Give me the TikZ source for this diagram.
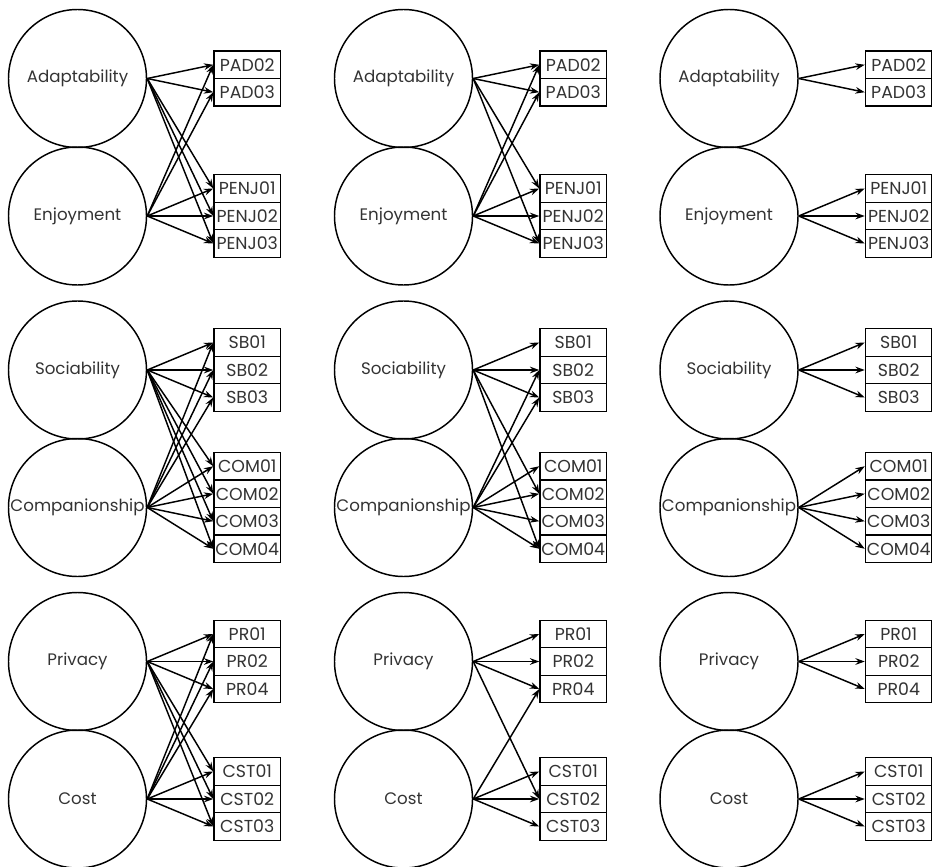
\documentclass[tikz,border=0pt]{standalone}
\usepackage{fontspec}
\setmainfont{Poppins}
\usetikzlibrary{positioning,arrows.meta}

\tikzset{
  factor/.style={circle,draw,line width=1.1pt,minimum size=103.5pt,inner sep=0pt,
    font=\fontsize{12.5}{14}\selectfont,text=black!80},
  item/.style={rectangle,draw,line width=1.1pt,minimum width=49.875pt,minimum height=20.625pt,
    inner sep=0pt,font=\fontsize{13}{15}\selectfont,text=black!80},
}

\begin{document}
\begin{tikzpicture}[node distance=20.625pt,on grid,line width=1.1pt,>={Stealth[length=7pt,width=5pt]}]
  \useasboundingbox (0,0) rectangle (699pt,-650.25pt);
  % one column of factors and items per model
  \foreach \c/\x in {1/58.125,2/302.625,3/546.75} {
    \node[factor] (adapt_\c) at (\x pt,-58.875pt) {Adaptability};
    \node[factor] (enjoy_\c) [below=103.125pt of adapt_\c] {Enjoyment};
    \node[factor] (soc_\c)   [below=218.625pt of adapt_\c] {Sociability};
    \node[factor] (comp_\c)  [below=103.125pt of soc_\c] {Companionship};
    \node[factor] (priv_\c)  [below=218.625pt of soc_\c] {Privacy};
    \node[factor] (cost_\c)  [below=103.125pt of priv_\c] {Cost};

    \node[item] (pad02_\c)  [above right=10.3125pt and 127.3125pt of adapt_\c] {PAD02};
    \node[item] (pad03_\c)  [below=of pad02_\c] {PAD03};
    \node[item] (penj02_\c) [right=127.3125pt of enjoy_\c] {PENJ02};
    \node[item] (penj01_\c) [above=of penj02_\c] {PENJ01};
    \node[item] (penj03_\c) [below=of penj02_\c] {PENJ03};
    \node[item] (sb02_\c)   [right=127.3125pt of soc_\c] {SB02};
    \node[item] (sb01_\c)   [above=of sb02_\c] {SB01};
    \node[item] (sb03_\c)   [below=of sb02_\c] {SB03};
    \node[item] (com01_\c)  [above right=30.9375pt and 127.3125pt of comp_\c] {COM01};
    \node[item] (com02_\c)  [below=of com01_\c] {COM02};
    \node[item] (com03_\c)  [below=of com02_\c] {COM03};
    \node[item] (com04_\c)  [below=of com03_\c] {COM04};
    \node[item] (pr02_\c)   [right=127.3125pt of priv_\c] {PR02};
    \node[item] (pr01_\c)   [above=of pr02_\c] {PR01};
    \node[item] (pr04_\c)   [below=of pr02_\c] {PR04};
    \node[item] (cst02_\c)  [right=127.3125pt of cost_\c] {CST02};
    \node[item] (cst01_\c)  [above=of cst02_\c] {CST01};
    \node[item] (cst03_\c)  [below=of cst02_\c] {CST03};

    \path[->]
      (adapt_\c.east) edge (pad02_\c.west) edge (pad03_\c.west)
      (enjoy_\c.east) edge (penj01_\c.west) edge (penj02_\c.west) edge (penj03_\c.west)
      (soc_\c.east)   edge (sb01_\c.west) edge (sb02_\c.west) edge (sb03_\c.west)
      (comp_\c.east)  edge (com01_\c.west) edge (com02_\c.west) edge (com03_\c.west) edge (com04_\c.west)
      (priv_\c.east)  edge (pr01_\c.west) edge (pr02_\c.west) edge (pr04_\c.west)
      (cost_\c.east)  edge (cst01_\c.west) edge (cst02_\c.west) edge (cst03_\c.west);
  }
  % cross loadings, first model
  \path[->]
    (adapt_1.east) edge (penj01_1.west) edge (penj02_1.west) edge (penj03_1.west)
    (enjoy_1.east) edge (pad02_1.west) edge (pad03_1.west)
    (soc_1.east)   edge (com01_1.west) edge (com02_1.west) edge (com03_1.west) edge (com04_1.west)
    (comp_1.east)  edge (sb01_1.west) edge (sb02_1.west) edge (sb03_1.west)
    (priv_1.east)  edge (cst01_1.west) edge (cst02_1.west) edge (cst03_1.west)
    (cost_1.east)  edge (pr01_1.west) edge (pr02_1.west) edge (pr04_1.west);
  % cross loadings, second model
  \path[->]
    (adapt_2.east) edge (penj01_2.west) edge (penj03_2.west)
    (enjoy_2.east) edge (pad02_2.west) edge (pad03_2.west)
    (soc_2.east)   edge (com02_2.west) edge (com04_2.west)
    (comp_2.east)  edge (sb02_2.west) edge (sb03_2.west)
    (priv_2.east)  edge (cst02_2.west)
    (cost_2.east)  edge (pr04_2.west);
\end{tikzpicture}
\end{document}
